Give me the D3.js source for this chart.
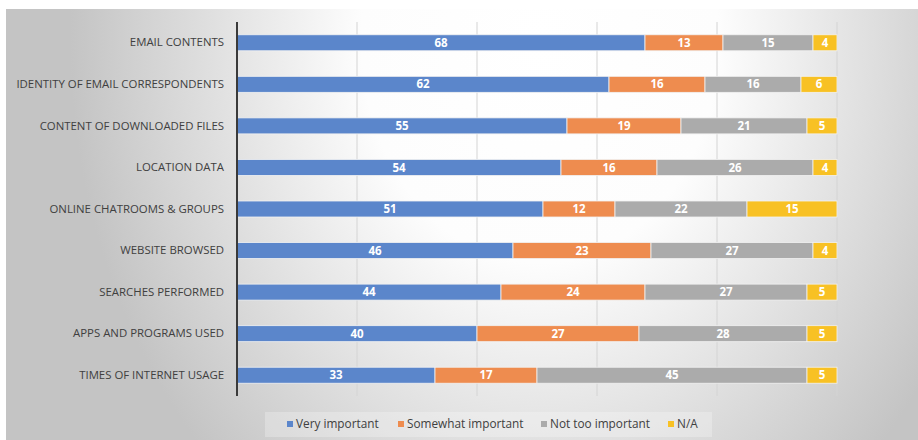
<!DOCTYPE html>
<html>
<head>
<meta charset="utf-8">
<script src="https://cdn.jsdelivr.net/npm/d3@7"></script>
<style>
  body { margin: 0; background: #fff; }
  text { font-family: "Open Sans", "Noto Sans", sans-serif; }
</style>
</head>
<body>
<div id="chart"></div>
<script>
const categories = [
  "EMAIL CONTENTS",
  "IDENTITY OF EMAIL CORRESPONDENTS",
  "CONTENT OF DOWNLOADED FILES",
  "LOCATION DATA",
  "ONLINE CHATROOMS & GROUPS",
  "WEBSITE BROWSED",
  "SEARCHES PERFORMED",
  "APPS AND PROGRAMS USED",
  "TIMES OF INTERNET USAGE"
];
const seriesNames = ["Very important", "Somewhat important", "Not too important", "N/A"];
const veryImportant     = [68, 62, 55, 54, 51, 46, 44, 40, 33];
const somewhatImportant = [13, 16, 19, 16, 12, 23, 24, 27, 17];
const notTooImportant   = [15, 16, 21, 26, 22, 27, 27, 28, 45];
const notApplicable     = [4, 6, 5, 4, 15, 4, 5, 5, 5];
const gridTicks = [0, 20, 40, 60, 80, 100];

const colors = ["#5B86CB", "#EE8C4F", "#ABABAB", "#F8C124"];

const width = 918, height = 440;
const margin = {left: 237, right: 81, top: 22, bottom: 44};

const rows = categories.map((c, i) => ({
  cat: c,
  "Very important": veryImportant[i],
  "Somewhat important": somewhatImportant[i],
  "Not too important": notTooImportant[i],
  "N/A": notApplicable[i]
}));
const stacked = d3.stack().keys(seriesNames)(rows);

const svg = d3.select("#chart").append("svg")
  .attr("width", width)
  .attr("height", height);

// background gradient
const defs = svg.append("defs");
const grad = defs.append("radialGradient")
  .attr("id", "bg")
  .attr("gradientUnits", "userSpaceOnUse")
  .attr("cx", 540).attr("cy", 40).attr("r", 470)
  .attr("gradientTransform", "translate(540,40) scale(1,1.25) translate(-540,-40)");
grad.append("stop").attr("offset", "0%").attr("stop-color", "#ffffff");
grad.append("stop").attr("offset", "38%").attr("stop-color", "#fdfdfd");
grad.append("stop").attr("offset", "100%").attr("stop-color", "#c4c4c4");

svg.append("rect")
  .attr("x", 6).attr("y", 9)
  .attr("width", width - 6).attr("height", height - 9)
  .attr("fill", "url(#bg)");

const x = d3.scaleLinear()
  .domain([0, 100])
  .range([margin.left, width - margin.right]);

const y = d3.scaleBand()
  .domain(categories)
  .range([margin.top, height - margin.bottom])
  .paddingInner(0.615)
  .paddingOuter(0.3075);

// gridlines
svg.append("g")
  .selectAll("line")
  .data(gridTicks.slice(1))
  .enter()
  .append("line")
  .attr("x1", d => x(d)).attr("x2", d => x(d))
  .attr("y1", margin.top).attr("y2", height - margin.bottom)
  .attr("stroke", "#d4d4d4")
  .attr("stroke-width", 1);

// bars
const layer = svg.append("g")
  .selectAll("g")
  .data(stacked)
  .enter()
  .append("g")
  .attr("fill", (d, i) => colors[i]);

layer.selectAll("rect")
  .data(d => d)
  .enter()
  .append("rect")
  .attr("x", d => x(d[0]))
  .attr("y", d => y(d.data.cat))
  .attr("width", d => x(d[1]) - x(d[0]))
  .attr("height", y.bandwidth())
  .attr("stroke", "#f2f2f2")
  .attr("stroke-width", 0.8);

layer.selectAll("text")
  .data(d => d)
  .enter()
  .append("text")
  .attr("x", d => (x(d[0]) + x(d[1])) / 2)
  .attr("y", d => y(d.data.cat) + y.bandwidth() / 2)
  .attr("dy", "0.36em")
  .attr("text-anchor", "middle")
  .attr("font-size", "11.5px")
  .attr("font-weight", "bold")
  .attr("fill", "#ffffff")
  .text(d => d[1] - d[0]);

// y axis
const yAxis = d3.axisLeft(y).tickSize(0).tickPadding(13);
const yg = svg.append("g")
  .attr("transform", "translate(" + margin.left + ",0)")
  .call(yAxis);
yg.select(".domain").remove();
yg.selectAll("text")
  .attr("font-size", "11.4px")
  .attr("fill", "#404040")
  .style("font-family", "'Open Sans', sans-serif");

svg.append("line")
  .attr("x1", margin.left).attr("x2", margin.left)
  .attr("y1", margin.top).attr("y2", height - margin.bottom)
  .attr("stroke", "#3a3a3a")
  .attr("stroke-width", 2);

// legend
const legend = svg.append("g");
legend.append("rect")
  .attr("x", 265).attr("y", 412)
  .attr("width", 447).attr("height", 25)
  .attr("fill", "#ffffff")
  .attr("fill-opacity", 0.25);

const legendX = [287, 398, 541, 668];
const items = legend.selectAll("g.item")
  .data(seriesNames)
  .enter()
  .append("g")
  .attr("class", "item")
  .attr("transform", (d, i) => "translate(" + legendX[i] + ",424)");
items.append("rect")
  .attr("x", 0).attr("y", -3)
  .attr("width", 6).attr("height", 6)
  .attr("fill", (d, i) => colors[i]);
items.append("text")
  .attr("x", 9)
  .attr("dy", "0.36em")
  .attr("font-size", "11.8px")
  .attr("fill", "#404040")
  .text(d => d);
</script>
</body>
</html>
